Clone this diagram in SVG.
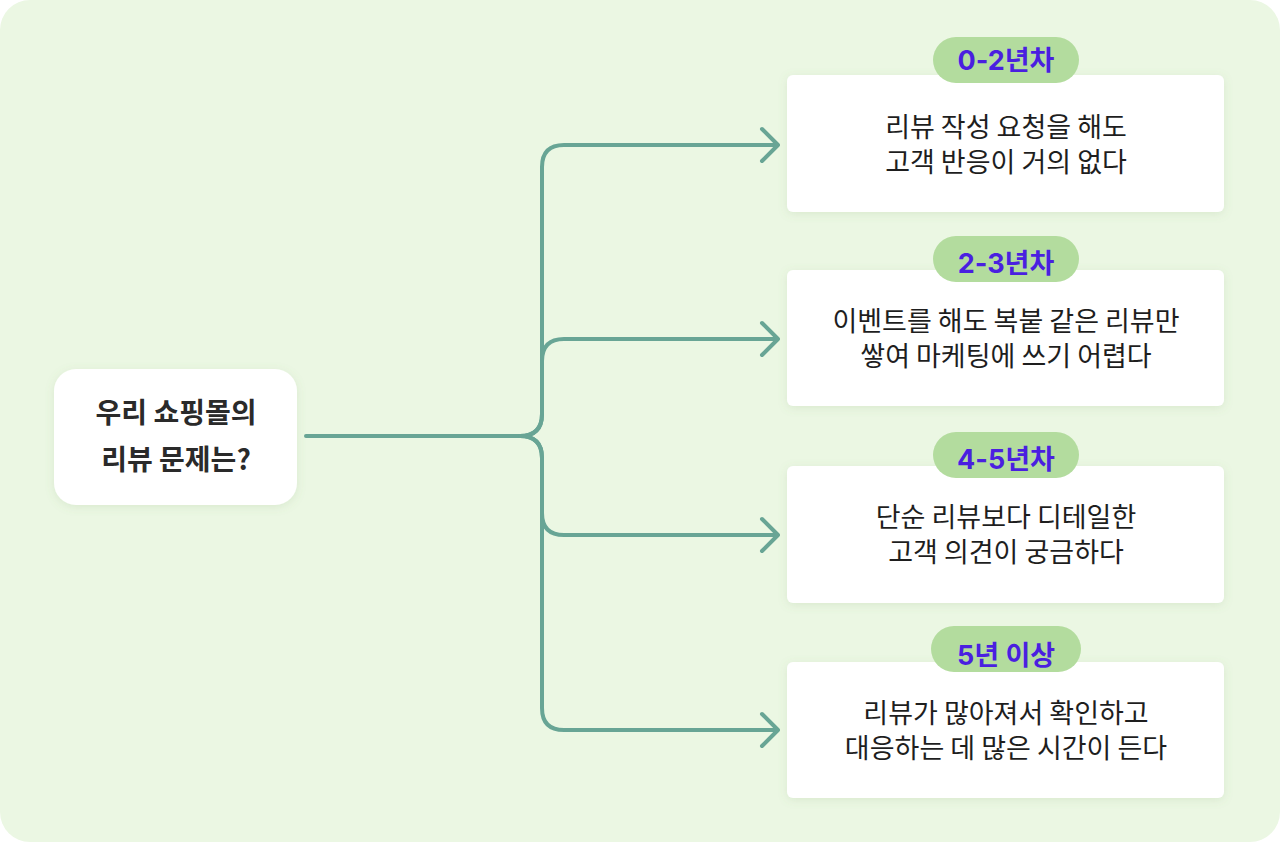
<svg xmlns="http://www.w3.org/2000/svg" width="1280" height="842" viewBox="0 0 1280 842">
<defs>
<style>
.card{fill:#fff;filter:url(#sh)}
.pill{fill:#b3dc9e}
.pt{font-family:Inter,"Noto Sans CJK KR",sans-serif;font-weight:700;font-size:27px;fill:#4a1fe0;text-anchor:middle}
.ct{font-family:"Noto Sans CJK KR",sans-serif;font-size:27px;fill:#1e1e1e;text-anchor:middle}
.rt{font-family:"Noto Sans CJK KR",sans-serif;font-weight:700;font-size:28px;fill:#2a2a2a;text-anchor:middle}
.ln{fill:none;stroke:#68a595;stroke-width:4;stroke-linecap:round;stroke-linejoin:round}
</style>
<filter id="sh" x="-10%" y="-20%" width="120%" height="140%"><feDropShadow dx="0" dy="2" stdDeviation="5" flood-color="#6a9a5a" flood-opacity="0.15"/></filter>
</defs>
<rect x="0" y="0" width="1280" height="842" rx="30" fill="#ebf7e3"/>
<g id="connectors">
<path class="ln" d="M306,436 L520,436 Q542,436 542,414 L542,167 Q542,145 564,145 L776,145"/>
<path class="ln" d="M520,436 Q542,436 542,414 L542,361 Q542,339 564,339 L776,339"/>
<path class="ln" d="M520,436 Q542,436 542,458 L542,513 Q542,535 564,535 L776,535"/>
<path class="ln" d="M520,436 Q542,436 542,458 L542,708 Q542,730 564,730 L776,730"/>
<path class="ln" d="M762,129 L778,145 L762,161 M762,323 L778,339 L762,355 M762,519 L778,535 L762,551 M762,714 L778,730 L762,746"/>
</g>
<g id="root">
<rect class="card" x="54" y="369" width="243" height="136" rx="22"/>
<text class="rt" x="176" y="423">우리 쇼핑몰의</text>
<text class="rt" x="176" y="470">리뷰 문제는?</text>
</g>
<g id="n1">
<rect class="card" x="787" y="75" width="437" height="137" rx="6"/>
<rect class="pill" x="933" y="37" width="146" height="46" rx="23"/>
<text class="pt" x="1006" y="70">0-2년차</text>
<text class="ct" x="1006" y="137">리뷰 작성 요청을 해도</text>
<text class="ct" x="1006" y="172">고객 반응이 거의 없다</text>
</g>
<g id="n2">
<rect class="card" x="787" y="270" width="437" height="136" rx="6"/>
<rect class="pill" x="933" y="236" width="146" height="46" rx="23"/>
<text class="pt" x="1006" y="273">2-3년차</text>
<text class="ct" x="1006" y="331">이벤트를 해도 복붙 같은 리뷰만</text>
<text class="ct" x="1006" y="366">쌓여 마케팅에 쓰기 어렵다</text>
</g>
<g id="n3">
<rect class="card" x="787" y="466" width="437" height="137" rx="6"/>
<rect class="pill" x="933" y="432" width="146" height="46" rx="23"/>
<text class="pt" x="1006" y="469">4-5년차</text>
<text class="ct" x="1006" y="527">단순 리뷰보다 디테일한</text>
<text class="ct" x="1006" y="562">고객 의견이 궁금하다</text>
</g>
<g id="n4">
<rect class="card" x="787" y="662" width="437" height="136" rx="6"/>
<rect class="pill" x="931" y="626" width="150" height="46" rx="23"/>
<text class="pt" x="1006" y="665">5년 이상</text>
<text class="ct" x="1006" y="723">리뷰가 많아져서 확인하고</text>
<text class="ct" x="1006" y="758">대응하는 데 많은 시간이 든다</text>
</g>
</svg>
